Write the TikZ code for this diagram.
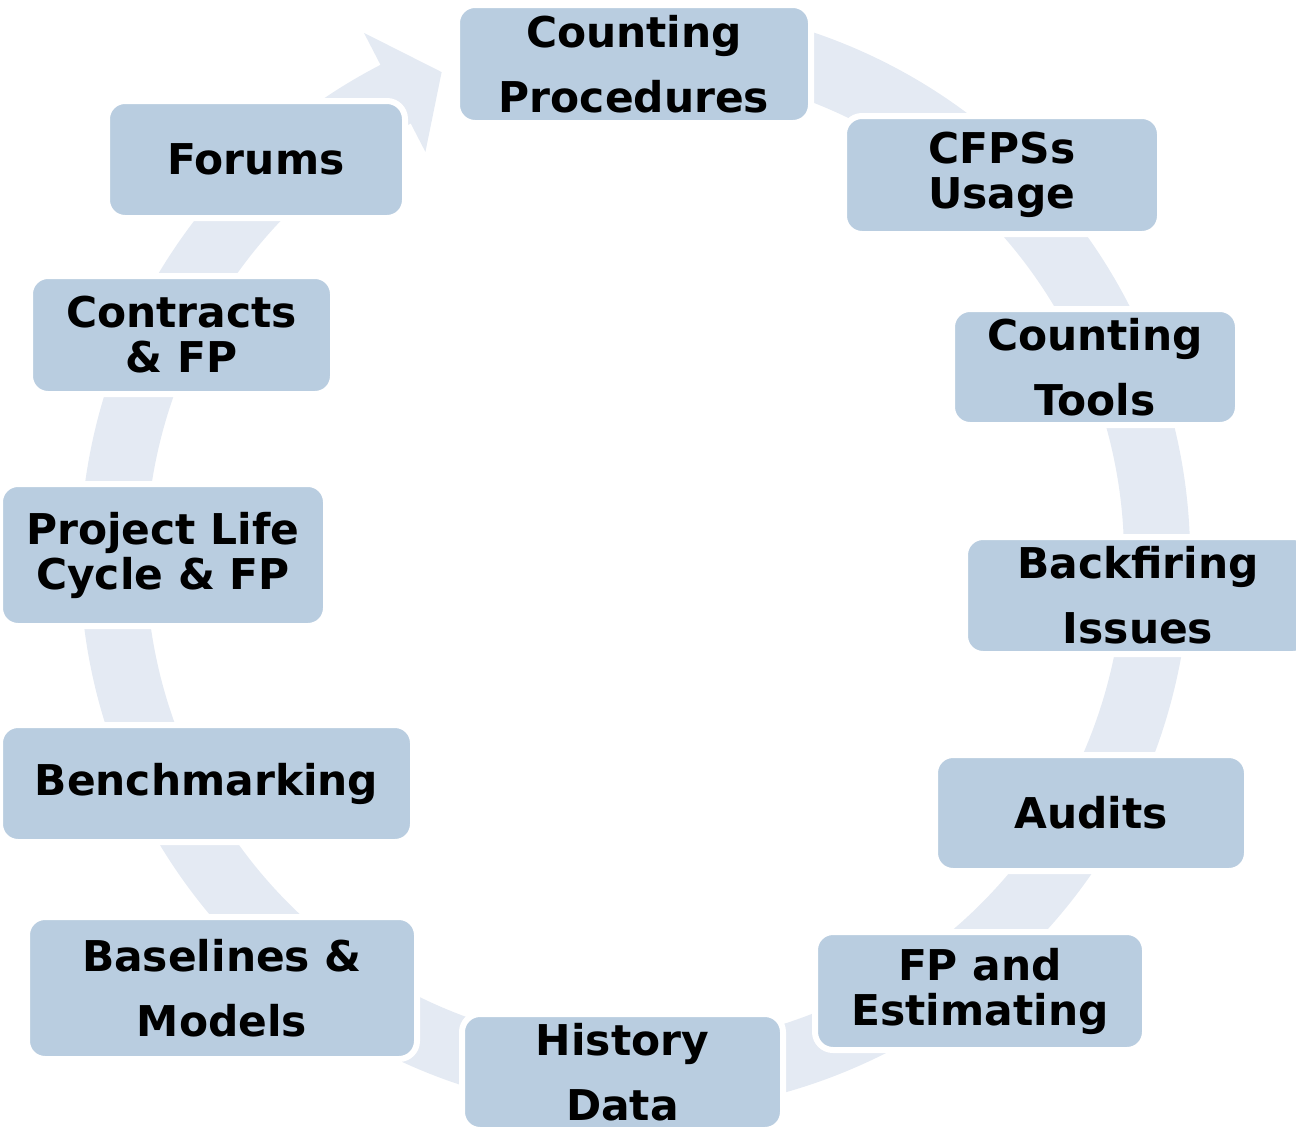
\documentclass[tikz,border=0pt]{standalone}
\usepackage{fontspec}
\setmainfont{DejaVu Sans}
\definecolor{boxfill}{RGB}{185,205,224}
\definecolor{ringfill}{RGB}{228,234,243}
\tikzset{
  sz/.style 2 args={minimum width=#1*0.75pt+4.5pt, minimum height=#2*0.75pt+4.5pt},
  stage/.style={draw=white, line width=4.5pt, fill=boxfill, rounded corners=13.5pt,
    inner sep=0pt, align=center, text=black},
  tight/.style={font=\fontsize{31.8pt}{33.75pt}\selectfont\bfseries},
  loose/.style={font=\fontsize{31.8pt}{48.75pt}\selectfont\bfseries},
  ring/.style={fill=ringfill, draw=none}
}
\begin{document}
\begin{tikzpicture}[x=0.75pt, y=-0.75pt]
\useasboundingbox (0,0) rectangle (1296,1128);
\clip (0,0) rectangle (1296,1128);
% circular arrow behind the stages
\begin{scope}[shift={(635,558)}]
\fill[ring] (282:555) arc[start angle=282, end angle=602.7, radius=555]
  -- (242.7:591) -- (248.3:523) -- (242.7:457) -- (242.7:489)
  arc[start angle=602.7, end angle=282, radius=489] -- cycle;
\end{scope}
% stages
\node[stage, loose, sz={348}{112}] (cp) at (634,64) {Counting\\Procedures};
\node[stage, tight, sz={310}{112}] (cfps) at (1002,175) {CFPSs\\Usage};
\node[stage, loose, sz={280}{110}] (ct) at (1095,367) {Counting\\Tools};
\node[stage, loose, sz={340}{111}] (bi) at (1138,595.5) {Backfiring\\Issues};
\node[stage, tight, sz={306}{110}] (au) at (1091,813) {Audits};
\node[stage, tight, sz={324}{112}] (fe) at (980,991) {FP and\\Estimating};
\node[stage, loose, sz={315}{110}] (hd) at (622.5,1072) {History\\Data};
\node[stage, loose, sz={384}{136}] (bm) at (222,988) {Baselines \&\\Models};
\node[stage, tight, sz={407}{111}] (be) at (206.5,783.5) {Benchmarking};
\node[stage, tight, sz={320}{136}] (pl) at (163,555) {Project Life\\Cycle \& FP};
\node[stage, tight, sz={297}{112}] (cf) at (181.5,335) {Contracts\\\& FP};
\node[stage, tight, sz={292}{111}] (fo) at (256,159.5) {Forums};
\end{tikzpicture}
\end{document}
